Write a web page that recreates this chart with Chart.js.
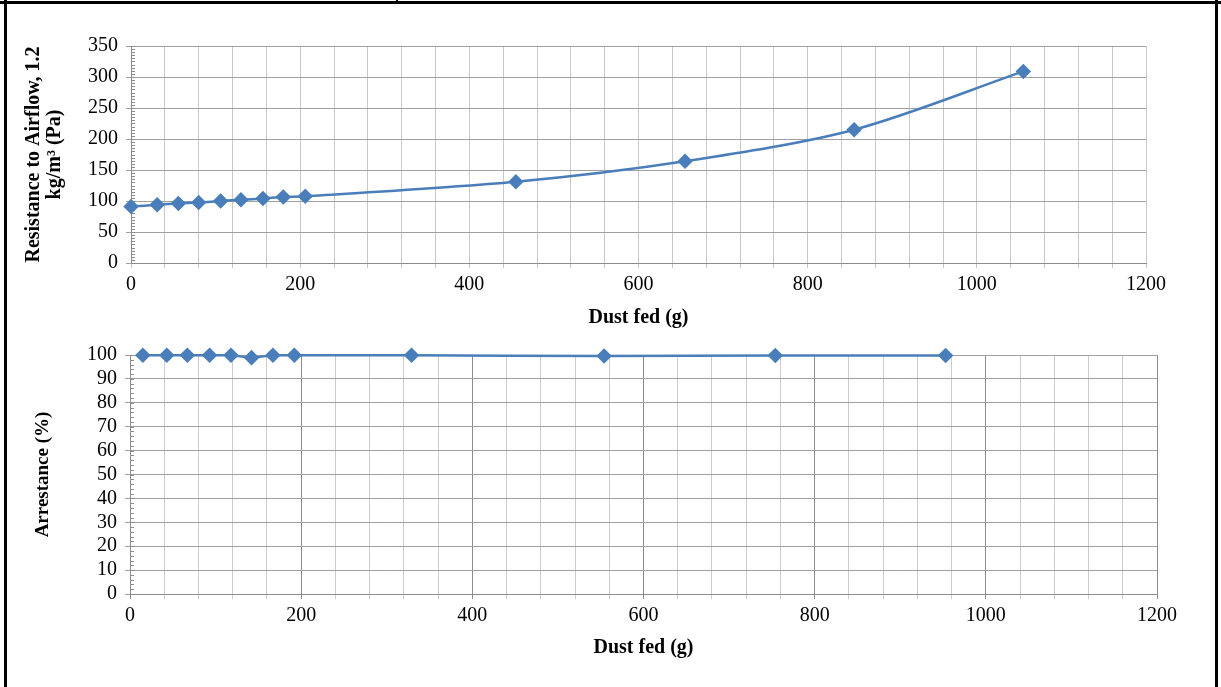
<!DOCTYPE html>
<html>
<head>
<meta charset="utf-8">
<script src="https://cdn.jsdelivr.net/npm/chart.js@4"></script>
<style>
  body { margin: 0; background: #fff; }
  #page { position: relative; width: 1221px; height: 687px; overflow: hidden; }
  .rule { position: absolute; background: #000; }
  canvas { position: absolute; left: 0; }
</style>
</head>
<body>
<div id="page">
  <div class="rule" style="left:0;top:1px;width:1221px;height:3px"></div>
  <div class="rule" style="left:4px;top:0;width:3px;height:687px"></div>
  <div class="rule" style="left:1215px;top:0;width:3px;height:687px"></div>
  <div class="rule" style="left:396px;top:0;width:2px;height:4px"></div>
  <canvas id="topChart" width="1221" height="335" style="top:0"></canvas>
  <canvas id="bottomChart" width="1221" height="352" style="top:335px"></canvas>
</div>
<script>
// resistance curve (top)
var dustTop = [0, 31, 56, 80, 106, 130, 156, 180, 206, 455, 655, 855, 1055];
var resistance = [91, 94, 96, 97.5, 100, 102, 104, 106.5, 107.5, 131, 164, 215, 309];
// arrestance (bottom)
var dustBottom = [15, 43, 67, 93, 118, 142, 167, 192, 329, 554, 754, 953];
var arrestance = [99.9, 99.9, 99.9, 99.9, 99.9, 98.9, 99.9, 99.9, 99.9, 99.6, 99.8, 99.8];
// axis ticks
var xTicks = [0, 200, 400, 600, 800, 1000, 1200];

var blue = "#4a7ebb";
var serif = "'Liberation Serif', 'Times New Roman', serif";

function pairs(xs, ys) {
  return xs.map(function (x, i) { return { x: x, y: ys[i] }; });
}

// small minor marks along the y axis
const minorTicks = {
  id: "minorTicks",
  beforeDatasetsDraw(chart, args, opts) {
    const y = chart.scales.y;
    const left = chart.chartArea.left;
    const ctx = chart.ctx;
    ctx.save();
    ctx.strokeStyle = "#8c8c8c";
    ctx.lineWidth = 1;
    ctx.beginPath();
    for (let v = y.min; v <= y.max; v += opts.step) {
      const py = Math.round(y.getPixelForValue(v)) + 0.5;
      ctx.moveTo(left, py);
      ctx.lineTo(left + 4, py);
    }
    ctx.stroke();
    ctx.restore();
  },
};

function makeConfig(points, yMax, yStep, minorStep, yTitle, yTitleSize, pad, yWidth, xHeight, titlePadBottom, vGrid) {
  return {
    type: "line",
    data: {
      datasets: [
        {
          data: points,
          borderColor: blue,
          backgroundColor: blue,
          borderWidth: 2.5,
          pointStyle: "rectRot",
          pointRadius: 6,
          pointHoverRadius: 6,
          pointBackgroundColor: blue,
          pointBorderColor: blue,
          tension: 0.3,
          fill: false,
          clip: false,
        },
      ],
    },
    options: {
      responsive: false,
      maintainAspectRatio: false,
      animation: false,
      devicePixelRatio: 1,
      layout: { padding: pad },
      plugins: {
        legend: { display: false },
        tooltip: { enabled: false },
        minorTicks: { step: minorStep },
      },
      scales: {
        x: {
          type: "linear",
          min: 0,
          max: 1200,
          afterFit(scale) { scale.height = xHeight; },
          ticks: {
            stepSize: 40,
            autoSkip: false,
            maxRotation: 0,
            padding: 5,
            color: "#000",
            font: { family: serif, size: 20 },
            callback: function (v) { return xTicks.indexOf(v) >= 0 ? String(v) : ""; },
          },
          grid: {
            color: vGrid,
            tickLength: 5,
            lineWidth: 1,
          },
          border: { color: "#8c8c8c" },
          title: {
            display: true,
            text: "Dust fed (g)",
            color: "#000",
            font: { family: serif, size: 20, weight: "bold", lineHeight: 1.1 },
            padding: { top: 0, bottom: titlePadBottom },
          },
        },
        y: {
          min: 0,
          max: yMax,
          afterFit(scale) { scale.width = yWidth; },
          ticks: {
            stepSize: yStep,
            autoSkip: false,
            padding: 8,
            color: "#000",
            font: { family: serif, size: 20 },
          },
          grid: { color: "#a0a0a0", tickLength: 5 },
          border: { color: "#8c8c8c" },
          title: {
            display: true,
            text: yTitle,
            color: "#000",
            font: { family: serif, size: yTitleSize, weight: "bold", lineHeight: 1.05 },
            padding: { top: 2, bottom: 0 },
          },
        },
      },
    },
    plugins: [minorTicks],
  };
}

const topChart = new Chart(
  document.getElementById("topChart"),
  makeConfig(
    pairs(dustTop, resistance), 350, 50, 5,
    ["Resistance to Airflow, 1.2", "kg/m³ (Pa)"], 20,
    { left: 21, right: 75, top: 46, bottom: 0 }, 110, 72, 6,
    "#c8c8c8"
  )
);

const bottomChart = new Chart(
  document.getElementById("bottomChart"),
  makeConfig(
    pairs(dustBottom, arrestance), 100, 10, 2,
    "Arrestance (%)", 19,
    { left: 31, right: 64, top: 17, bottom: 0 }, 99, 93, 28,
    function (ctx) { return ctx.tick && ctx.tick.value % 200 === 0 ? "#8c8c8c" : "#cccccc"; }
  )
);
</script>
</body>
</html>
